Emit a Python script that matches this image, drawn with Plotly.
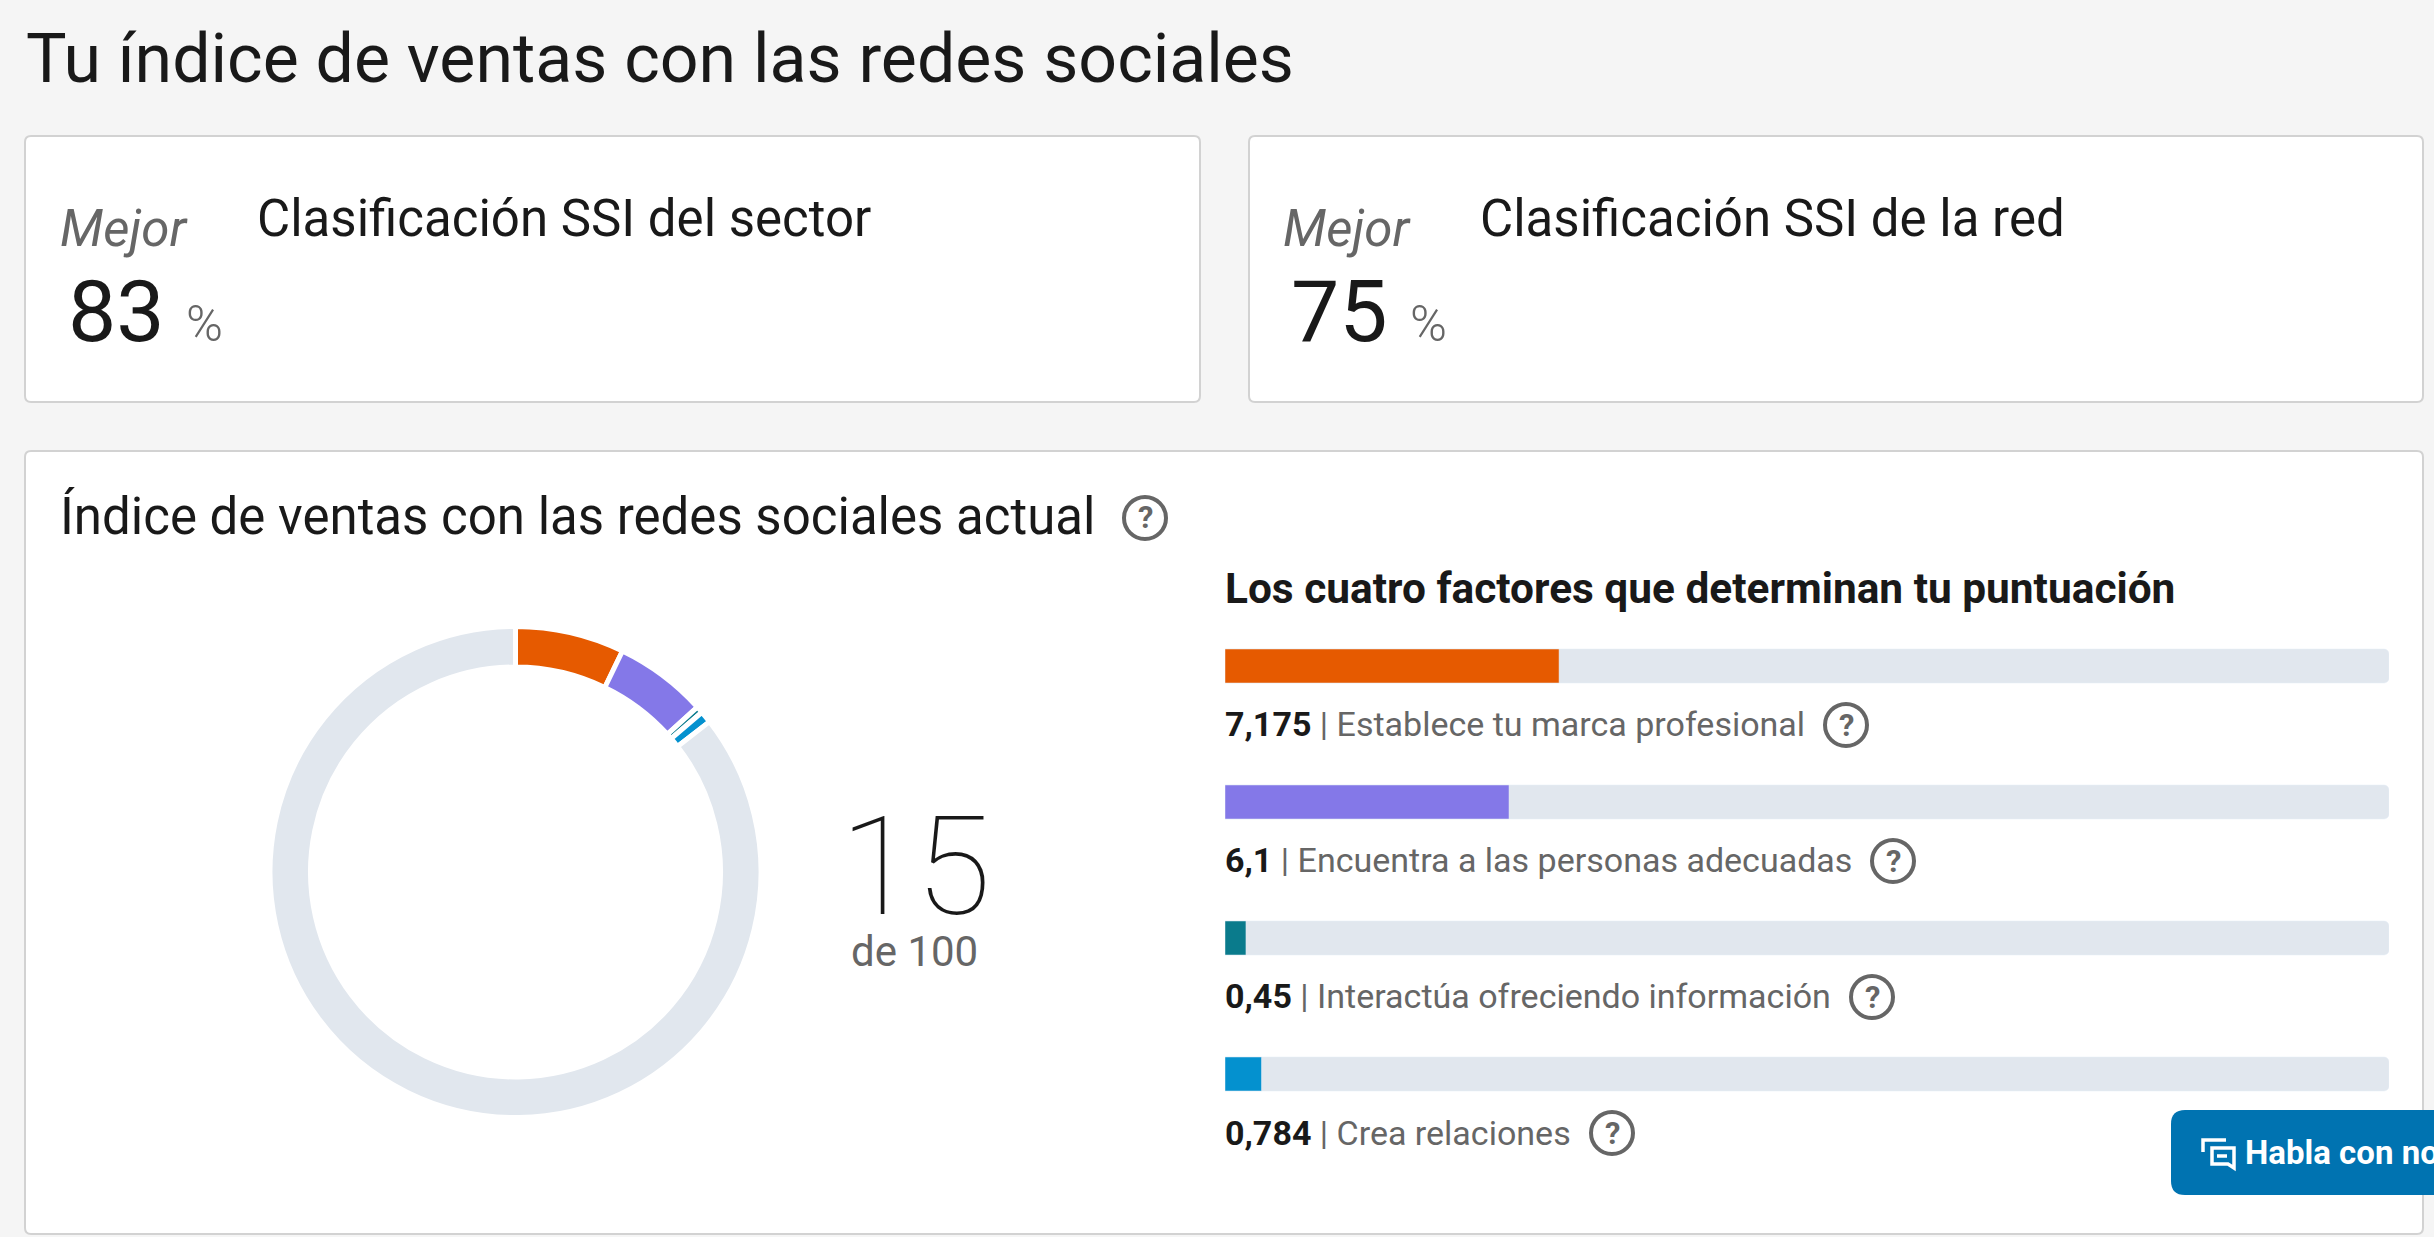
import plotly.graph_objects as go

W = 2434
H = 1237

factor_names = ["Establece tu marca profesional", "Encuentra a las personas adecuadas",
				"Interactúa ofreciendo información", "Crea relaciones"]
factor_scores = [7.175, 6.1, 0.45, 0.784]
factor_labels = ["7,175", "6,1", "0,45", "0,784"]
factor_colors = ["#e65a00", "#8478e8", "#0a7b8c", "#0491cf"]
factor_max = [25, 25, 25, 25]

donut_labels = factor_names + ["Restante"]
donut_values = [7.175, 6.1, 0.45, 0.784, 85.491]
donut_colors = factor_colors + ["#e1e7ee"]

FONT = "Roboto"
DARK = "#191919"
GRAY = "#666666"

def fx(x):
	return x / W

def fy(y):
	return 1 - y / H

def card(x0, y0, x1, y1, r=6, fill="white", line="#d2d2d2", width=2, layer="below"):
	path = (f"M {fx(x0 + r)} {fy(y0)} L {fx(x1 - r)} {fy(y0)} Q {fx(x1)} {fy(y0)} {fx(x1)} {fy(y0 + r)} "
			f"L {fx(x1)} {fy(y1 - r)} Q {fx(x1)} {fy(y1)} {fx(x1 - r)} {fy(y1)} "
			f"L {fx(x0 + r)} {fy(y1)} Q {fx(x0)} {fy(y1)} {fx(x0)} {fy(y1 - r)} "
			f"L {fx(x0)} {fy(y0 + r)} Q {fx(x0)} {fy(y0)} {fx(x0 + r)} {fy(y0)} Z")
	return dict(type="path", xref="paper", yref="paper", path=path, fillcolor=fill, layer=layer,
				line=dict(color=line, width=width))

def label(x, y, text, size, color=DARK, **kw):
	weight = kw.pop("weight", None)
	style = kw.pop("style", None)
	anchor = kw.pop("xanchor", "left")
	return dict(xref="paper", yref="paper", x=fx(x), y=fy(y), text=text, showarrow=False, xanchor=anchor,
				yanchor="middle", align=anchor, borderpad=0, borderwidth=0,
				font=dict(family=FONT, size=size, color=color, weight=weight, style=style))

def help_icon(x, y, r=21):
	shape = dict(type="circle", xref="paper", yref="paper", x0=fx(x - r), x1=fx(x + r), y0=fy(y + r), y1=fy(y - r),
				 line=dict(color=GRAY, width=4), fillcolor="rgba(0,0,0,0)")
	return shape, label(x, y, "<b>?</b>", 31, GRAY, xanchor="center")

fig = go.Figure()

# fondo gris de cada barra y luego el valor encima
fig.add_trace(go.Bar(y=factor_names, x=factor_max, orientation="h", width=0.25,
					 marker=dict(color="#e1e7ee", cornerradius=5), hoverinfo="skip", showlegend=False))
fig.add_trace(go.Bar(y=factor_names, x=factor_scores, orientation="h", width=0.25,
					 marker=dict(color=factor_colors, cornerradius=5), showlegend=False))

fig.add_trace(go.Pie(labels=donut_labels, values=donut_values, sort=False, direction="clockwise", rotation=0,
					 hole=0.835, textinfo="none", showlegend=False,
					 marker=dict(colors=donut_colors, line=dict(color="white", width=5)),
					 domain=dict(x=[fx(270), fx(761)], y=[fy(1117.5), fy(626.5)])))

shapes = [
	card(25, 136, 1200, 402),
	card(1249, 136, 2423, 402),
	card(25, 451, 2423, 1234),
]

annotations = [
	label(26, 59, "Tu índice de ventas con las redes sociales", 68),
	label(60, 229, "Mejor", 51, GRAY, style="italic"),
	label(257, 218, "Clasificación SSI del sector", 51),
	label(68, 312, "83", 86),
	label(186, 324, "%", 50, GRAY, weight=300),
	label(1283, 229, "Mejor", 51, GRAY, style="italic"),
	label(1480, 218, "Clasificación SSI de la red", 51),
	label(1291, 312, "75", 86),
	label(1410, 324, "%", 50, GRAY, weight=300),
	label(60, 517, "Índice de ventas con las redes sociales actual", 51),
	label(1225, 588, "<b>Los cuatro factores que determinan tu puntuación</b>", 42.4),
	label(916, 867, "15", 138, weight=100, xanchor="center"),
	label(914, 951, "de 100", 42, GRAY, xanchor="center"),
	label(2245, 1152, "<b>Habla con nosotros</b>", 33, "white"),
]

label_rows = [724, 860, 996, 1133]
for i in range(len(factor_names)):
	annotations.append(label(1225, label_rows[i],
		f"<b>{factor_labels[i]}</b> <span style='color:{GRAY}'>| {factor_names[i]}</span>", 34))

for x, y in [(1145, 518), (1846, 725), (1893, 861), (1872, 997), (1612, 1133)]:
	s, a = help_icon(x, y)
	shapes.append(s)
	annotations.append(a)

# boton del chat, recortado por el borde derecho
shapes.append(card(2171, 1110, 2460, 1195, r=14, fill="#0073b1", line="#0073b1", width=0, layer="above"))
shapes.append(dict(type="path", xref="paper", yref="paper", layer="above", line=dict(color="white", width=3.5),
				   path=f"M {fx(2203)} {fy(1152)} L {fx(2203)} {fy(1140)} L {fx(2226)} {fy(1140)}"))
shapes.append(dict(type="path", xref="paper", yref="paper", layer="above", line=dict(color="white", width=3.5),
				   fillcolor="rgba(0,0,0,0)",
				   path=f"M {fx(2212)} {fy(1148)} L {fx(2234)} {fy(1148)} L {fx(2234)} {fy(1168)} "
						f"L {fx(2228)} {fy(1164)} L {fx(2212)} {fy(1164)} Z"))
shapes.append(dict(type="line", xref="paper", yref="paper", layer="above", line=dict(color="white", width=3.5),
				   x0=fx(2217), x1=fx(2227), y0=fy(1156), y1=fy(1156)))

fig.update_layout(
	width=W, height=H, margin=dict(l=0, r=0, t=0, b=0, pad=0),
	paper_bgcolor="#f5f5f5", plot_bgcolor="rgba(0,0,0,0)",
	barmode="overlay", showlegend=False,
	shapes=shapes, annotations=annotations,
	xaxis=dict(domain=[fx(1225), fx(2389)], range=[0, 25], visible=False, fixedrange=True),
	yaxis=dict(domain=[fy(1142), fy(598)], range=[3.5, -0.5], visible=False, fixedrange=True, type="category",
			   categoryorder="array", categoryarray=factor_names),
)

fig.write_html("out.html", config={"displayModeBar": False},
			   post_script="document.body.style.margin='0';document.body.style.overflow='hidden';")
